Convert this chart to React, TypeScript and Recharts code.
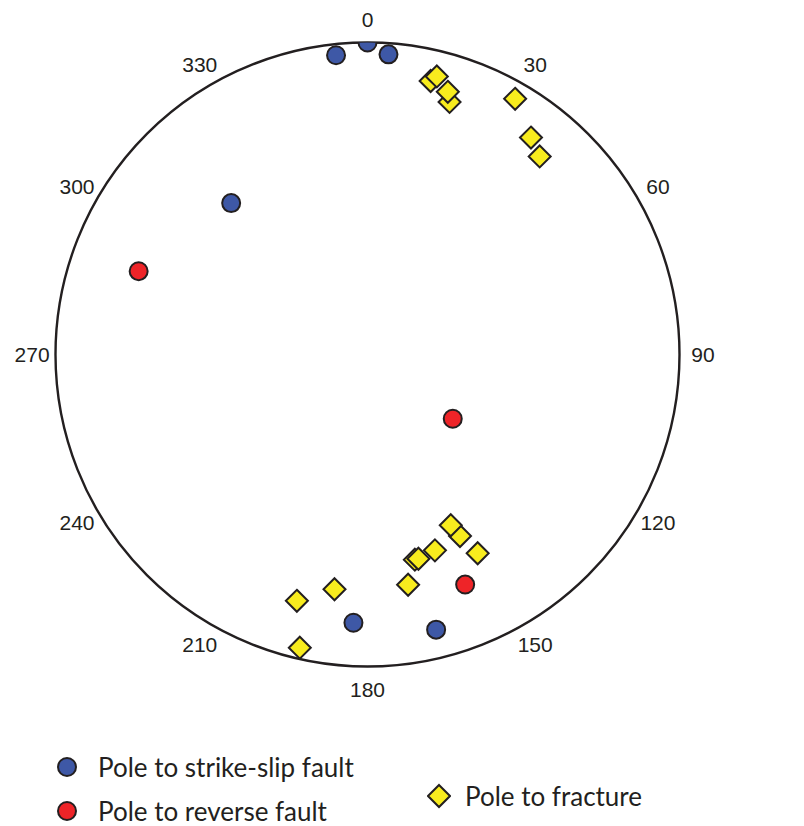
import React from "react";
import { ScatterChart, Scatter, XAxis, YAxis, ReferenceDot, Legend } from "recharts";

// poles as trend / plunge (degrees), lower-hemisphere equal-area net
const strikeSlipTrend = [354, 0, 4, 318, 183, 166];
const strikeSlipPlunge = [4, 0, 4, 35, 15, 10];

const reverseTrend = [290, 127, 157];
const reversePlunge = [23, 62, 21];

const fractureTrend = [13, 14, 18, 17, 30, 37, 41, 153, 154, 151, 161, 167, 166, 170, 188, 196, 193];
const fracturePlunge = [11, 9, 16, 13, 6, 14, 17, 35, 39, 28, 34, 33, 33, 26, 25, 19, 4];

const azimuthTicks = [0, 30, 60, 90, 120, 150, 180, 210, 240, 270, 300, 330];

const seriesNames = ["Pole to strike-slip fault", "Pole to reverse fault", "Pole to fracture"];

const W = 804;
const H = 826;
const NET = 624; // plot box = net diameter in px
const MARGIN = { left: 55.5, top: 42.5, right: W - 55.5 - NET, bottom: H - 42.5 - NET };

const BLUE = "#3e58a6";
const RED = "#ee2428";
const YELLOW = "#f8ec1e";
const INK = "#231f20";

const rad = (d: number) => (d * Math.PI) / 180;

// equal-area (Schmidt) projection onto the unit circle
const project = (trend: number[], plunge: number[]) =>
  trend.map((t, i) => {
    const r = Math.SQRT2 * Math.sin(rad((90 - plunge[i]) / 2));
    return { x: r * Math.sin(rad(t)), y: r * Math.cos(rad(t)), trend: t, plunge: plunge[i] };
  });

const strikeSlip = project(strikeSlipTrend, strikeSlipPlunge);
const reverse = project(reverseTrend, reversePlunge);
const fracture = project(fractureTrend, fracturePlunge);

// primitive circle; also defines the clip used by the markers
const NetCircle = (p: any) => (
  <g>
    <defs>
      <clipPath id="netClip">
        <circle cx={p.cx} cy={p.cy} r={NET / 2} />
      </clipPath>
    </defs>
    <circle cx={p.cx} cy={p.cy} r={NET / 2} fill="none" stroke={INK} strokeWidth={2.4} />
  </g>
);

const Dot = (props: any) => (
  <circle
    cx={props.cx}
    cy={props.cy}
    r={9}
    fill={props.fill}
    stroke={INK}
    strokeWidth={2}
    clipPath="url(#netClip)"
  />
);

const Diamond = (props: any) => {
  const { cx, cy, fill } = props;
  const s = 11;
  return (
    <polygon
      points={`${cx},${cy - s} ${cx + s},${cy} ${cx},${cy + s} ${cx - s},${cy}`}
      fill={fill}
      stroke={INK}
      strokeWidth={2}
      clipPath="url(#netClip)"
    />
  );
};

// legend spots, in page px
const legendSpots: Record<string, { x: number; y: number; gap: number }> = {
  [seriesNames[0]]: { x: 67, y: 767, gap: 19 },
  [seriesNames[1]]: { x: 67, y: 811, gap: 19 },
  [seriesNames[2]]: { x: 439, y: 796, gap: 14 },
};

const NetLegend = (props: any) => {
  const payload = props.payload || [];
  return (
    <div style={{ position: "relative", height: 0, width: W }}>
      {payload.map((entry: any) => {
        const spot = legendSpots[entry.value];
        const diamond = entry.type === "diamond";
        return (
          <div
            key={entry.value}
            style={{
              position: "absolute",
              left: spot.x - 12,
              top: spot.y - 16,
              height: 32,
              display: "flex",
              alignItems: "center",
              whiteSpace: "nowrap",
            }}
          >
            <svg width={24} height={28} style={{ marginRight: spot.gap }}>
              {diamond ? (
                <polygon points="12,3 23,14 12,25 1,14" fill={entry.color} stroke={INK} strokeWidth={2} />
              ) : (
                <circle cx={12} cy={14} r={9} fill={entry.color} stroke={INK} strokeWidth={2} />
              )}
            </svg>
            <span style={{ fontFamily: "Lato, 'Open Sans', sans-serif", fontSize: 26, color: INK }}>
              {entry.value}
            </span>
          </div>
        );
      })}
    </div>
  );
};

const AzimuthLabel = (a: number) => (p: any) => (
  <text
    x={p.cx}
    y={p.cy}
    textAnchor="middle"
    dominantBaseline="central"
    fontFamily="'Liberation Sans', Arial, sans-serif"
    fontSize={21}
    fill={INK}
  >
    {a}
  </text>
);

export default function App() {
  return (
    <div style={{ position: "absolute", left: 0, top: 0, background: "#fff" }}>
      <ScatterChart width={W} height={H} margin={MARGIN}>
        <XAxis type="number" dataKey="x" domain={[-1, 1]} allowDataOverflow hide />
        <YAxis type="number" dataKey="y" domain={[-1, 1]} allowDataOverflow hide />
        <ReferenceDot x={0} y={0} r={NET / 2} ifOverflow="visible" shape={NetCircle} />
        {azimuthTicks.map((a) => (
          <ReferenceDot
            key={a}
            x={1.075 * Math.sin(rad(a))}
            y={1.075 * Math.cos(rad(a))}
            r={0}
            ifOverflow="visible"
            shape={AzimuthLabel(a)}
          />
        ))}
        <Scatter
          name={seriesNames[0]}
          data={strikeSlip}
          fill={BLUE}
          legendType="circle"
          shape={Dot}
          isAnimationActive={false}
        />
        <Scatter
          name={seriesNames[1]}
          data={reverse}
          fill={RED}
          legendType="circle"
          shape={Dot}
          isAnimationActive={false}
        />
        <Scatter
          name={seriesNames[2]}
          data={fracture}
          fill={YELLOW}
          legendType="diamond"
          shape={Diamond}
          isAnimationActive={false}
        />
        <Legend
          verticalAlign="top"
          align="left"
          content={<NetLegend />}
          wrapperStyle={{ left: 0, top: 0, width: W }}
        />
      </ScatterChart>
    </div>
  );
}
